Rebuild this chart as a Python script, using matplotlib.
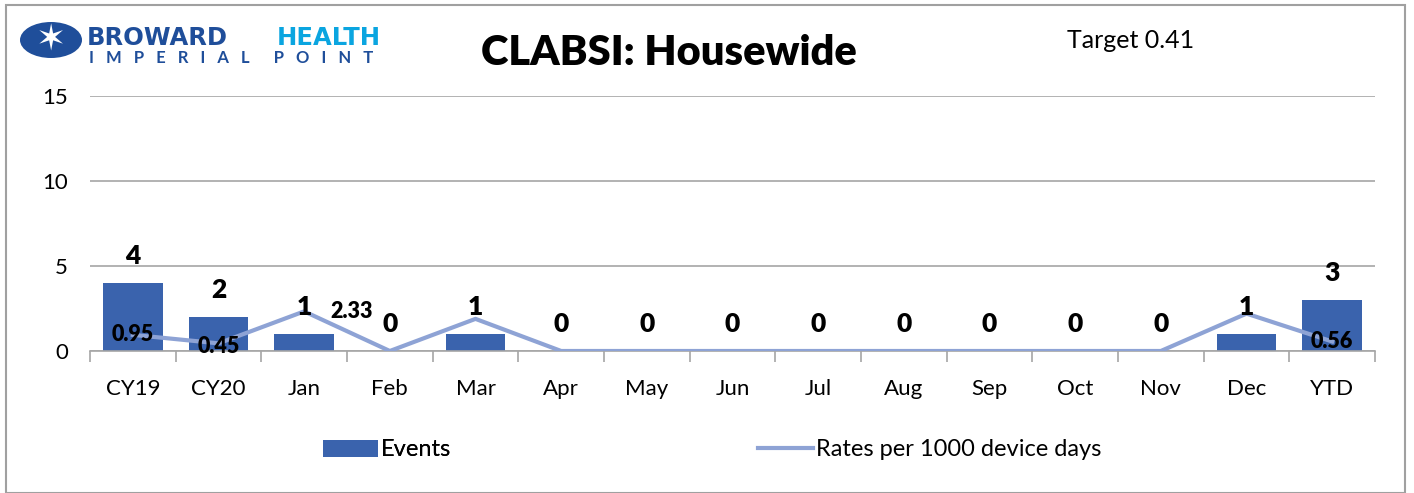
import matplotlib
matplotlib.use("Agg")
import matplotlib.pyplot as plt
from matplotlib.patches import Rectangle, Ellipse, Patch
from matplotlib.lines import Line2D
import numpy as np

plt.rcParams['font.family'] = ['Lato', 'DejaVu Sans']

categories = ["CY19", "CY20", "Jan", "Feb", "Mar", "Apr", "May", "Jun", "Jul", "Aug", "Sep", "Oct", "Nov", "Dec", "YTD"]
events = [4, 2, 1, 0, 1, 0, 0, 0, 0, 0, 0, 0, 0, 1, 3]
rates = [0.95, 0.45, 2.33, 0, 1.89, 0, 0, 0, 0, 0, 0, 0, 0, 2.2, 0.56]
rate_labels = {0: "0.95", 1: "0.45", 2: "2.33", 14: "0.56"}
yticks = [0, 5, 10, 15]

BAR = "#3A63AD"
LINE = "#8EA3D5"
GRID = "#A6A6A6"

fig = plt.figure(figsize=(14.14, 4.93), dpi=100)
W, H = 1414, 493

def fx(px):
    return px / W

def fy(py):
    return 1 - py / H

fig.patches.append(Rectangle((fx(6), fy(493)), fx(1399), fy(5) - fy(493), transform=fig.transFigure,
                             fill=False, edgecolor="#A0A0A0", linewidth=1.5))

ax = fig.add_axes([fx(90), fy(351), fx(1375) - fx(90), fy(96) - fy(351)])
x = np.arange(len(categories))
ax.bar(x, events, width=0.7, color=BAR, zorder=2)
ax.plot(x, rates, color=LINE, linewidth=3, zorder=3)

ax.set_xlim(-0.5, len(categories) - 0.5)
ax.set_ylim(0, 15)
ax.set_yticks(yticks)
ax.set_yticklabels([str(v) for v in yticks], fontsize=16)
ax.yaxis.grid(True, color=GRID, linewidth=1.2, zorder=0)
ax.set_axisbelow(True)
ax.tick_params(axis='y', length=0, pad=16)
ax.set_xticks(x)
ax.set_xticklabels(categories, fontsize=16)
ax.tick_params(axis='x', which='major', length=0, pad=20)
ax.set_xticks(np.arange(-0.5, len(categories)), minor=True)
ax.tick_params(axis='x', which='minor', length=8, color=GRID, width=1.2)
for s in ["top", "right", "left"]:
    ax.spines[s].set_visible(False)
ax.spines["bottom"].set_color(GRID)
ax.spines["bottom"].set_linewidth(1.2)

for i, v in enumerate(events):
    ax.annotate(str(v), (i, v), xytext=(0, 11), textcoords="offset points",
                ha="center", va="bottom", fontsize=19, fontweight="heavy", zorder=5)

for i, lab in rate_labels.items():
    dx = 34 if i == 2 else 0
    dy = 0 if i != 1 else -2
    ax.annotate(lab, (i, rates[i]), xytext=(dx, dy), textcoords="offset points",
                ha="center", va="center", fontsize=15.5, fontweight="heavy", zorder=5)

fig.text(fx(669), fy(53), "CLABSI: Housewide", ha="center", va="center", fontsize=30, fontweight="heavy")
fig.text(fx(1131), fy(40), "Target 0.41", ha="center", va="center", fontsize=18)

# logo
fig.patches.append(Ellipse((fx(51), fy(40)), fx(62), fy(22) - fy(58), transform=fig.transFigure,
                           facecolor="#1F4E9A", edgecolor="none"))
fig.text(fx(51), fy(40), "✶", ha="center", va="center", fontsize=26, color="white", family="DejaVu Sans")
fig.text(fx(87), fy(45), "BROWARD", ha="left", va="baseline", fontsize=17.5, fontweight="bold",
         color="#1F4E9A", family="DejaVu Sans")
fig.text(fx(277), fy(45), "HEALTH", ha="left", va="baseline", fontsize=17.5, fontweight="bold",
         color="#0AA5E0", family="DejaVu Sans")
fig.text(fx(89), fy(63), "I   M   P   E   R   I   A   L      P   O   I   N   T", ha="left",
         va="baseline", fontsize=12, fontweight="bold", color="#1F4E9A")

h1 = Patch(facecolor=BAR, edgecolor="none")
h2 = Line2D([0], [0], color=LINE, linewidth=3)
leg1 = fig.legend([h1], ["Events"], loc="center left", bbox_to_anchor=(fx(302), fy(450)),
                  frameon=False, fontsize=17, handlelength=2.3, handletextpad=0.15)
fig.add_artist(leg1)
fig.legend([h2], ["Rates per 1000 device days"], loc="center left", bbox_to_anchor=(fx(737), fy(450)),
           frameon=False, fontsize=17, handlelength=2.3, handletextpad=0.15)

fig.savefig("out.png", dpi=100)
